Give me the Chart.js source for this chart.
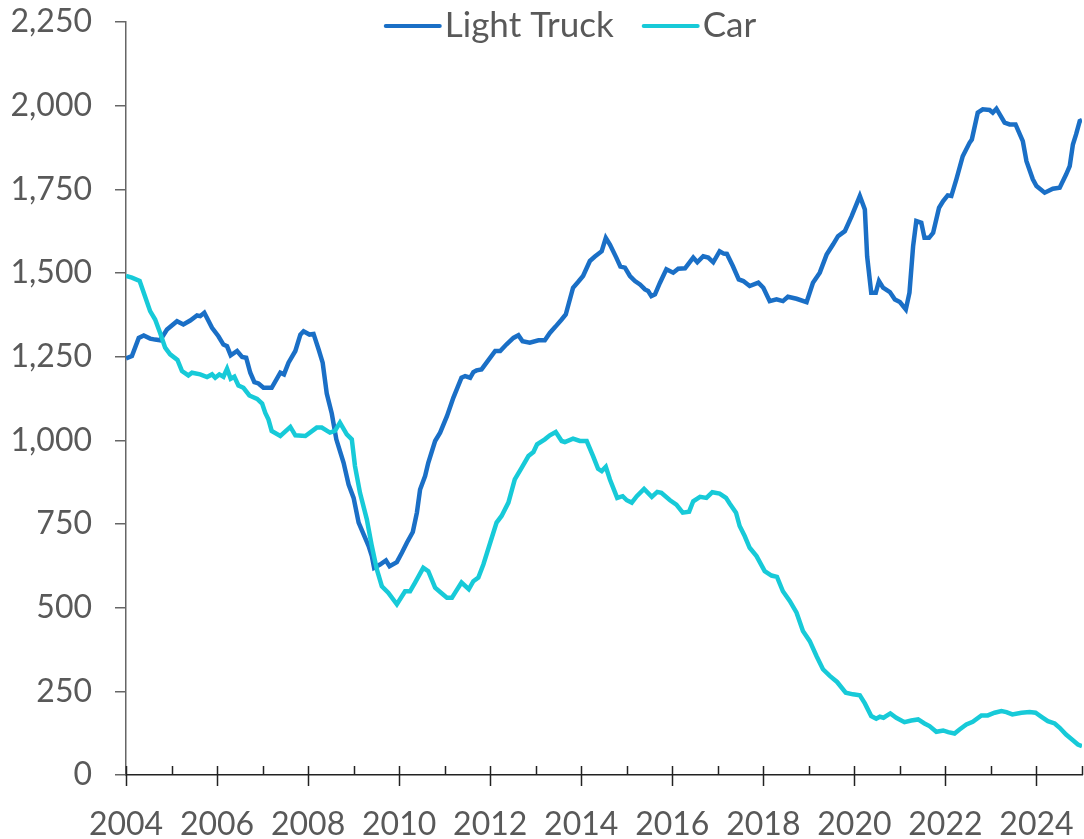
<!DOCTYPE html>
<html>
<head>
<meta charset="utf-8">
<script src="https://cdn.jsdelivr.net/npm/chart.js@4"></script>
<style>
  html, body { margin: 0; padding: 0; background: #fff; }
  #wrap { width: 1084px; height: 839px; }
</style>
</head>
<body>
<div id="wrap"><canvas id="salesChart" width="1084" height="839"></canvas></div>
<script>
// values, x in decimal years
const truckDates = [2004.00, 2004.13, 2004.28, 2004.39, 2004.53, 2004.64, 2004.75, 2004.90, 2005.12, 2005.26,
  2005.41, 2005.56, 2005.63, 2005.72, 2005.89, 2006.03, 2006.14, 2006.22, 2006.30, 2006.44,
  2006.55, 2006.64, 2006.73, 2006.82, 2006.91, 2007.02, 2007.20, 2007.39, 2007.47, 2007.57,
  2007.72, 2007.83, 2007.90, 2008.03, 2008.12, 2008.23, 2008.32, 2008.41, 2008.52, 2008.62,
  2008.78, 2008.89, 2009.00, 2009.11, 2009.22, 2009.33, 2009.40, 2009.45, 2009.58, 2009.71,
  2009.79, 2009.95, 2010.06, 2010.17, 2010.30, 2010.39, 2010.46, 2010.57, 2010.64, 2010.79,
  2010.90, 2011.05, 2011.19, 2011.37, 2011.45, 2011.56, 2011.63, 2011.70, 2011.81, 2011.92,
  2012.11, 2012.22, 2012.36, 2012.51, 2012.62, 2012.71, 2012.87, 2013.06, 2013.20, 2013.31,
  2013.43, 2013.57, 2013.66, 2013.82, 2013.93, 2014.04, 2014.19, 2014.30, 2014.45, 2014.54,
  2014.63, 2014.77, 2014.86, 2014.96, 2015.07, 2015.18, 2015.29, 2015.40, 2015.47, 2015.54,
  2015.62, 2015.73, 2015.87, 2016.02, 2016.13, 2016.28, 2016.46, 2016.55, 2016.68, 2016.79,
  2016.90, 2017.04, 2017.13, 2017.20, 2017.33, 2017.46, 2017.56, 2017.70, 2017.89, 2018.00,
  2018.14, 2018.29, 2018.43, 2018.54, 2018.73, 2018.95, 2019.09, 2019.24, 2019.39, 2019.53,
  2019.64, 2019.79, 2019.94, 2020.12, 2020.23, 2020.28, 2020.37, 2020.47, 2020.54, 2020.63,
  2020.78, 2020.89, 2021.00, 2021.13, 2021.21, 2021.29, 2021.36, 2021.47, 2021.54, 2021.64,
  2021.73, 2021.86, 2021.95, 2022.05, 2022.13, 2022.24, 2022.38, 2022.53, 2022.58, 2022.71,
  2022.82, 2022.97, 2023.04, 2023.12, 2023.30, 2023.41, 2023.54, 2023.70, 2023.78, 2023.92,
  2024.00, 2024.18, 2024.36, 2024.51, 2024.65, 2024.73, 2024.80, 2024.87, 2024.95, 2025.00];
const truckValues = [1245, 1252, 1306, 1313, 1304, 1301, 1299, 1331, 1356, 1346,
  1358, 1373, 1371, 1381, 1336, 1311, 1286, 1281, 1254, 1267,
  1249, 1247, 1202, 1174, 1170, 1157, 1157, 1202, 1197, 1232,
  1267, 1316, 1326, 1316, 1318, 1272, 1232, 1140, 1080, 1003,
  933, 868, 828, 754, 719, 684, 654, 619, 629, 641,
  624, 636, 664, 694, 726, 784, 853, 893, 933, 998,
  1023, 1072, 1127, 1187, 1192, 1187, 1204, 1209, 1212, 1232,
  1267, 1267, 1287, 1306, 1314, 1296, 1292, 1299, 1299, 1321,
  1339, 1361, 1376, 1456, 1473, 1491, 1536, 1549, 1565, 1605,
  1585, 1546, 1519, 1516, 1491, 1476, 1466, 1451, 1446, 1431,
  1436, 1471, 1511, 1501, 1513, 1514, 1546, 1532, 1550, 1546,
  1532, 1565, 1558, 1557, 1521, 1481, 1476, 1461, 1471, 1456,
  1416, 1421, 1416, 1429, 1423, 1413, 1471, 1501, 1555, 1585,
  1610, 1625, 1670, 1730, 1690, 1550, 1441, 1441, 1476, 1456,
  1443, 1421, 1413, 1391, 1441, 1580, 1655, 1650, 1605, 1605,
  1620, 1695, 1715, 1732, 1730, 1780, 1849, 1889, 1899, 1979,
  1989, 1987, 1979, 1991, 1949, 1944, 1944, 1894, 1834, 1780,
  1760, 1740, 1752, 1755, 1794, 1819, 1884, 1914, 1954, 1957];

const carDates = [2004.00, 2004.13, 2004.30, 2004.39, 2004.53, 2004.64, 2004.75, 2004.86, 2004.97, 2005.13,
  2005.23, 2005.37, 2005.45, 2005.63, 2005.78, 2005.89, 2005.96, 2006.05, 2006.14, 2006.22,
  2006.30, 2006.38, 2006.47, 2006.58, 2006.71, 2006.88, 2006.99, 2007.06, 2007.13, 2007.20,
  2007.39, 2007.61, 2007.72, 2007.94, 2008.19, 2008.30, 2008.48, 2008.59, 2008.70, 2008.85,
  2008.96, 2009.03, 2009.14, 2009.29, 2009.40, 2009.51, 2009.62, 2009.76, 2009.95, 2010.13,
  2010.24, 2010.35, 2010.53, 2010.64, 2010.79, 2010.90, 2011.05, 2011.16, 2011.23, 2011.37,
  2011.53, 2011.63, 2011.74, 2011.85, 2012.00, 2012.14, 2012.25, 2012.40, 2012.54, 2012.69,
  2012.84, 2012.95, 2013.03, 2013.20, 2013.31, 2013.44, 2013.57, 2013.64, 2013.82, 2013.97,
  2014.12, 2014.26, 2014.37, 2014.45, 2014.54, 2014.63, 2014.79, 2014.91, 2015.00, 2015.11,
  2015.22, 2015.38, 2015.55, 2015.67, 2015.76, 2015.95, 2016.09, 2016.23, 2016.37, 2016.46,
  2016.61, 2016.75, 2016.88, 2017.04, 2017.18, 2017.26, 2017.40, 2017.48, 2017.59, 2017.70,
  2017.85, 2018.03, 2018.18, 2018.30, 2018.43, 2018.58, 2018.73, 2018.87, 2019.02, 2019.17,
  2019.31, 2019.46, 2019.62, 2019.81, 2019.97, 2020.12, 2020.23, 2020.37, 2020.48, 2020.56,
  2020.64, 2020.79, 2020.92, 2021.10, 2021.25, 2021.40, 2021.54, 2021.65, 2021.80, 2021.95,
  2022.06, 2022.20, 2022.31, 2022.46, 2022.60, 2022.79, 2022.93, 2023.08, 2023.23, 2023.34,
  2023.47, 2023.67, 2023.85, 2023.98, 2024.11, 2024.25, 2024.40, 2024.51, 2024.65, 2024.80,
  2024.91, 2025.00];
const carValues = [1491, 1486, 1476, 1441, 1386, 1361, 1321, 1277, 1257, 1240,
  1207, 1194, 1202, 1197, 1189, 1197, 1187, 1197, 1190, 1214,
  1184, 1190, 1164, 1157, 1134, 1124, 1110, 1082, 1062, 1028,
  1013, 1040, 1015, 1013, 1038, 1038, 1023, 1028, 1053, 1018,
  1003, 923, 843, 764, 684, 614, 564, 545, 510, 549,
  549, 575, 619, 609, 560, 547, 530, 530, 545, 575,
  555, 579, 590, 629, 694, 754, 774, 814, 883, 918,
  953, 965, 988, 1003, 1015, 1025, 998, 995, 1005, 998,
  998, 953, 915, 908, 921, 883, 828, 833, 821, 814,
  833, 855, 831, 846, 843, 821, 808, 784, 787, 818,
  831, 828, 845, 841, 828, 811, 784, 744, 714, 679,
  654, 609, 596, 592, 549, 520, 485, 430, 400, 355,
  316, 296, 278, 246, 241, 238, 214, 176, 168, 174,
  171, 184, 171, 158, 163, 166, 154, 146, 129, 133,
  128, 124, 136, 151, 159, 178, 178, 186, 191, 188,
  181, 186, 188, 186, 174, 161, 154, 141, 121, 104,
  91, 86];

const yearMin = 2004;
const yearMax = 2025;
const yTicks = [0, 250, 500, 750, 1000, 1250, 1500, 1750, 2000, 2250];

const textColor = "#595959";
const fontFamily = "Lato, 'DejaVu Sans', sans-serif";

function toPoints(dates, values) {
  return dates.map((d, i) => ({ x: d, y: values[i] }));
}

// year ticks on the x axis: even years cross the axis, odd years only sit above it
const yearTickMarks = {
  id: "yearTickMarks",
  afterDraw(chart) {
    const ctx = chart.ctx;
    const xs = chart.scales.x;
    const y0 = chart.chartArea.bottom;
    ctx.save();
    ctx.strokeStyle = "#222";
    ctx.lineWidth = 1.5;
    for (let yr = yearMin; yr <= yearMax; yr++) {
      const px = Math.round(xs.getPixelForValue(yr)) + 0.5;
      ctx.beginPath();
      ctx.moveTo(px, y0 - 9);
      ctx.lineTo(px, yr % 2 === 0 ? y0 + 11 : y0);
      ctx.stroke();
    }
    ctx.restore();
  }
};

// legend drawn as short lines over the top of the plot
const lineLegend = {
  id: "lineLegend",
  afterDraw(chart) {
    const ctx = chart.ctx;
    const lineLen = 54, gap = 5, spacing = 30, cy = 26;
    ctx.save();
    ctx.font = "35px " + fontFamily;
    ctx.textBaseline = "middle";
    const items = chart.data.datasets.map(ds => ({
      label: ds.label,
      color: ds.borderColor,
      w: lineLen + gap + ctx.measureText(ds.label).width
    }));
    const total = items.reduce((s, it) => s + it.w, 0) + spacing * (items.length - 1);
    let x = 571 - total / 2;
    items.forEach(it => {
      ctx.strokeStyle = it.color;
      ctx.lineWidth = 4;
      ctx.lineCap = "round";
      ctx.beginPath();
      ctx.moveTo(x, cy);
      ctx.lineTo(x + lineLen, cy);
      ctx.stroke();
      ctx.fillStyle = textColor;
      ctx.fillText(it.label, x + lineLen + gap, cy);
      x += it.w + spacing;
    });
    ctx.restore();
  }
};

const ctx = document.getElementById("salesChart");

new Chart(ctx, {
  type: "line",
  data: {
    datasets: [
      {
        label: "Light Truck",
        data: toPoints(truckDates, truckValues),
        borderColor: "#1a6fc6",
        backgroundColor: "#1a6fc6",
        borderWidth: 4.5,
        pointRadius: 0,
        tension: 0,
        order: 1
      },
      {
        label: "Car",
        data: toPoints(carDates, carValues),
        borderColor: "#17cad8",
        backgroundColor: "#17cad8",
        borderWidth: 4.5,
        pointRadius: 0,
        tension: 0,
        order: 0
      }
    ]
  },
  options: {
    responsive: false,
    animation: false,
    layout: { padding: { top: 22, right: 2, left: 0, bottom: 0 } },
    plugins: {
      legend: { display: false },
      tooltip: { enabled: false }
    },
    scales: {
      x: {
        type: "linear",
        min: yearMin,
        max: yearMax,
        afterFit: scale => {
          scale.height = 64;
          scale.paddingLeft = 0;
          scale.paddingRight = 0;
        },
        grid: { display: false },
        border: { display: true, color: "#222", width: 1.5 },
        ticks: {
          stepSize: 1,
          autoSkip: false,
          maxRotation: 0,
          padding: 22,
          color: textColor,
          font: { family: fontFamily, size: 32 },
          callback: v => (v % 2 === 0 ? String(v) : "")
        }
      },
      y: {
        min: 0,
        max: 2250,
        afterFit: scale => {
          scale.width = 126;
          scale.paddingTop = 0;
          scale.paddingBottom = 0;
        },
        afterBuildTicks: scale => { scale.ticks = yTicks.map(v => ({ value: v })); },
        grid: {
          drawOnChartArea: false,
          drawTicks: true,
          tickLength: 11,
          color: "#666",
          lineWidth: 1.5
        },
        border: { display: true, color: "#666", width: 1.5 },
        ticks: {
          padding: 23,
          color: textColor,
          font: { family: fontFamily, size: 32 },
          callback: v => v.toLocaleString("en-US")
        }
      }
    }
  },
  plugins: [yearTickMarks, lineLegend]
});
</script>
</body>
</html>
